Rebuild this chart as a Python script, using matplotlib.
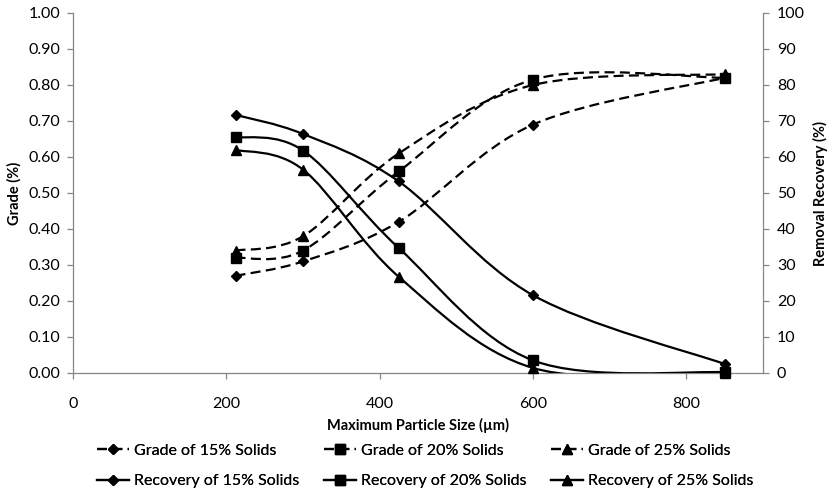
import matplotlib
matplotlib.use("Agg")
import matplotlib.pyplot as plt
from matplotlib.path import Path
from matplotlib.patches import PathPatch
from matplotlib.lines import Line2D
import numpy as np

plt.rcParams['font.family'] = ['Lato', 'DejaVu Sans']

# Maximum particle size (um)
size_um = [212, 300, 425, 600, 850]

# Grade (%) – left axis
grade_15 = [0.27, 0.31, 0.42, 0.69, 0.82]
grade_20 = [0.32, 0.34, 0.56, 0.815, 0.82]
grade_25 = [0.34, 0.38, 0.61, 0.80, 0.83]

# Removal recovery (%) – right axis
recovery_15 = [71.7, 66.4, 53.2, 21.6, 2.5]
recovery_20 = [65.6, 61.8, 34.7, 3.5, 0.2]
recovery_25 = [62.0, 56.5, 26.7, 1.4, 0.0]

x_ticks = [0, 200, 400, 600, 800]
grade_ticks = [0.0, 0.1, 0.2, 0.3, 0.4, 0.5, 0.6, 0.7, 0.8, 0.9, 1.0]
recovery_ticks = [0, 10, 20, 30, 40, 50, 60, 70, 80, 90, 100]

FS = 11.5
LABEL_FS = 10.5
SPINE = '#868686'
DASH = (0, (4.5, 2.4))


def smooth_path(xs, ys):
    """Cubic Bezier path through the points (Catmull-Rom tangents)."""
    p = np.column_stack([xs, ys]).astype(float)
    n = len(p)
    verts = [p[0]]
    codes = [Path.MOVETO]
    for i in range(n - 1):
        p0 = p[i - 1] if i > 0 else p[i]
        p1 = p[i]
        p2 = p[i + 1]
        p3 = p[i + 2] if i + 2 < n else p[i + 1]
        c1 = p1 + (p2 - p0) / 6.0
        c2 = p2 - (p3 - p1) / 6.0
        verts += [c1, c2, p2]
        codes += [Path.CURVE4] * 3
    return Path(verts, codes)


fig = plt.figure(figsize=(8.29, 4.93), dpi=100)
ax = fig.add_axes([73 / 829, 1 - 373 / 493, 690 / 829, 360 / 493])
ax2 = ax.twinx()

ax.set_xlim(0, 900)
ax.set_ylim(0, 1.0)
ax2.set_ylim(0, 100)

series = [
    (ax, grade_15, 'D', DASH, 'Grade of 15% Solids', 5),
    (ax, grade_20, 's', DASH, 'Grade of 20% Solids', 6.5),
    (ax, grade_25, '^', DASH, 'Grade of 25% Solids', 7),
    (ax2, recovery_15, 'D', '-', 'Recovery of 15% Solids', 5),
    (ax2, recovery_20, 's', '-', 'Recovery of 20% Solids', 6.5),
    (ax2, recovery_25, '^', '-', 'Recovery of 25% Solids', 7),
]

handles = {}
for a, ys, mk, ls, label, ms in series:
    patch = PathPatch(smooth_path(size_um, ys), facecolor='none', edgecolor='black',
                      lw=1.6, linestyle=ls, capstyle='butt', zorder=3)
    a.add_patch(patch)
    a.plot(size_um, ys, linestyle='none', marker=mk, color='black', ms=ms, zorder=4,
           clip_on=False)
    handles[label] = Line2D([], [], color='black', lw=1.6, linestyle=ls, marker=mk,
                            ms=ms, dash_capstyle='butt')

# axes styling
for a in (ax, ax2):
    a.spines['top'].set_visible(False)
    for s in ('left', 'right', 'bottom'):
        a.spines[s].set_color(SPINE)
        a.spines[s].set_linewidth(0.9)
    a.tick_params(colors=SPINE, labelcolor='black', labelsize=FS, length=4, width=0.9)
ax.spines['right'].set_visible(False)
ax2.spines['left'].set_visible(False)
ax2.spines['bottom'].set_visible(False)

ax.set_xticks(x_ticks)
ax.set_yticks(grade_ticks)
ax.set_yticklabels([f'{v:.2f}' for v in grade_ticks])
ax2.set_yticks(recovery_ticks)
ax.tick_params(axis='x', pad=13)
ax.tick_params(axis='y', pad=5)
ax2.tick_params(axis='y', pad=6)

ax.set_xlabel('Maximum Particle Size (µm)', fontsize=LABEL_FS, fontweight='bold', labelpad=5)
ax.set_ylabel('Grade (%)', fontsize=LABEL_FS, fontweight='bold', labelpad=5)
ax2.set_ylabel('Removal Recovery (%)', fontsize=LABEL_FS, fontweight='bold', labelpad=6)

# legend: one two-row block per solids content
columns = [
    ('Grade of 15% Solids', 'Recovery of 15% Solids', 97),
    ('Grade of 20% Solids', 'Recovery of 20% Solids', 324),
    ('Grade of 25% Solids', 'Recovery of 25% Solids', 551),
]
for g, r, xpix in columns:
    leg = fig.legend([handles[g], handles[r]], [g, r], frameon=False,
                     loc='center left', bbox_to_anchor=(xpix / 829, 1 - 466 / 493),
                     fontsize=FS, handlelength=2.0, handletextpad=0.3,
                     labelspacing=1.0, numpoints=1, borderaxespad=0, borderpad=0)
    fig.add_artist(leg)

fig.savefig('out.png', dpi=100)
